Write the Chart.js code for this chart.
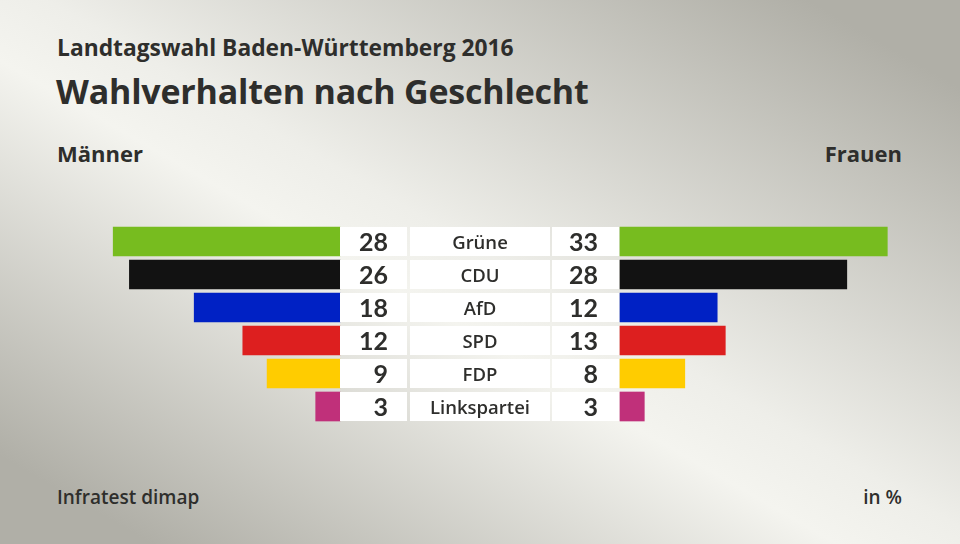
<!DOCTYPE html>
<html>
<head>
<meta charset="utf-8">
<script src="https://cdn.jsdelivr.net/npm/chart.js@4"></script>
<style>
  html, body { margin: 0; padding: 0; }
  body {
    width: 960px; height: 544px; overflow: hidden; position: relative;
    font-family: "Open Sans", Lato, sans-serif; color: #2e2e2c;
    background: linear-gradient(30deg, #b0afa7 8%, #f4f4ef 44%, #eeeee9 52%, #b0afa7 92%);
  }
  .t { position: absolute; font-weight: 700; white-space: nowrap; line-height: 1; }
  #sub { left: 57px; top: 37px; font-size: 22.8px; }
  #title { left: 56px; top: 74px; font-size: 34px; letter-spacing: -0.2px; }
  #men { left: 57px; top: 142px; font-size: 22px; }
  #women { right: 58px; top: 142px; font-size: 22px; }
  #src { left: 57px; top: 488px; font-size: 19px; font-weight: 600; }
  #unit { right: 58px; top: 488px; font-size: 19px; font-weight: 600; }
  #wrap { position: absolute; left: 0; top: 225px; width: 960px; height: 198px; }
</style>
</head>
<body>
<div class="t" id="sub">Landtagswahl Baden-Württemberg 2016</div>
<div class="t" id="title">Wahlverhalten nach Geschlecht</div>
<div class="t" id="men">Männer</div>
<div class="t" id="women">Frauen</div>
<div class="t" id="src">Infratest dimap</div>
<div class="t" id="unit">in %</div>
<div id="wrap"><canvas id="chart"></canvas></div>
<script>
const parties = ['Grüne', 'CDU', 'AfD', 'SPD', 'FDP', 'Linkspartei'];
const men = [28, 26, 18, 12, 9, 3];
const women = [33, 28, 12, 13, 8, 3];
const colors = ['#77bc1f', '#121212', '#0021c4', '#dd1f1f', '#ffcc00', '#c0307a'];

const PX_PER_UNIT = 8.1;
const GAP = 140 / PX_PER_UNIT; // half of the middle block, in %
const HALF = 480 / PX_PER_UNIT;

// white boxes + numbers + party names in the middle
const middle = {
  id: 'middle',
  afterDatasetsDraw(chart) {
    const ctx = chart.ctx;
    const x = chart.scales.x;
    const y = chart.scales.y;
    const cx = x.getPixelForValue(0);
    ctx.save();
    parties.forEach((p, i) => {
      const yc = y.getPixelForValue(i);
      const top = Math.round(yc - 14.5);
      ctx.fillStyle = '#ffffff';
      ctx.fillRect(cx - 140, top, 67, 29);
      ctx.fillRect(cx - 70, top, 140, 29);
      ctx.fillRect(cx + 72, top, 67, 29);
      ctx.fillStyle = '#2e2e2c';
      ctx.textBaseline = 'alphabetic';
      ctx.font = 'bold 25px Lato, sans-serif';
      ctx.textAlign = 'right';
      ctx.fillText(men[i], cx - 92, yc + 9);
      ctx.fillText(women[i], cx + 118, yc + 9);
      ctx.font = '600 18.5px "Open Sans", sans-serif';
      ctx.textAlign = 'center';
      ctx.fillText(p, cx, yc + 7);
    });
    ctx.restore();
  }
};

new Chart(document.getElementById('chart').getContext('2d'), {
  type: 'bar',
  data: {
    labels: parties,
    datasets: [
      {
        label: 'Männer',
        data: men.map(v => [-GAP - v, -GAP]),
        backgroundColor: colors
      },
      {
        label: 'Frauen',
        data: women.map(v => [GAP, GAP + v]),
        backgroundColor: colors
      }
    ]
  },
  options: {
    indexAxis: 'y',
    responsive: true,
    maintainAspectRatio: false,
    animation: false,
    events: [],
    layout: { padding: 0 },
    datasets: { bar: { grouped: false, barThickness: 29, borderSkipped: false, borderWidth: 0 } },
    plugins: { legend: { display: false }, tooltip: { enabled: false } },
    scales: {
      x: { type: 'linear', min: -HALF, max: HALF, display: false },
      y: { display: false }
    }
  },
  plugins: [middle]
});
</script>
</body>
</html>
